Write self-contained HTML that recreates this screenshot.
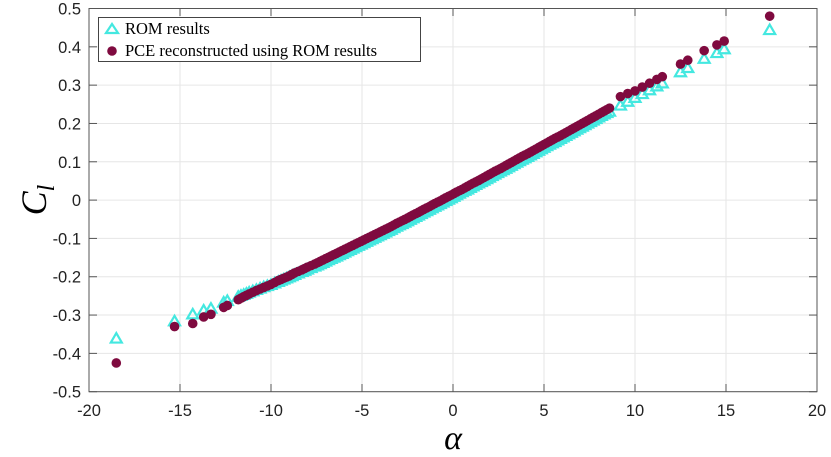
<!DOCTYPE html>
<html><head><meta charset="utf-8"><style>
html,body{margin:0;padding:0;background:#fff;}
svg{display:block;font-family:"Liberation Sans",sans-serif;}
</style></head><body>
<svg id="chart" width="831" height="457" viewBox="0 0 831 457">
<g id="grid"></g>
<g id="marks"></g>
<rect x="89" y="8.5" width="728" height="383.2" fill="none" stroke="#555" stroke-width="1"/>
<g id="ticks"></g>
<text x="453" y="449" font-family="Liberation Serif,serif" font-style="italic" font-size="34" text-anchor="middle">α</text>
<text transform="translate(46,200) rotate(-90)" font-family="Liberation Serif,serif" font-style="italic" font-size="36" text-anchor="middle">C<tspan font-size="24" dy="8">l</tspan></text>
<g>
<rect x="98.5" y="17.5" width="322" height="44" fill="#fff" stroke="#444" stroke-width="1"/>
<g>
<polygon points="106,33 112,24 118,33" fill="none" stroke="#44e8e0" stroke-width="2.2"/>
<text x="125" y="34" font-family="Liberation Serif,serif" font-size="16.5">ROM results</text>
</g>
<g>
<circle cx="112" cy="51" r="4.8" fill="#7f0a3f"/>
<text x="125" y="56" font-family="Liberation Serif,serif" font-size="16.5">PCE reconstructed using ROM results</text>
</g>
</g>
</svg>
<script>
const xTicks=[-20,-15,-10,-5,0,5,10,15,20];
const yTicks=[-0.5,-0.4,-0.3,-0.2,-0.1,0,0.1,0.2,0.3,0.4,0.5];
const yTickLabels=["-0.5","-0.4","-0.3","-0.2","-0.1","0","0.1","0.2","0.3","0.4","0.5"];
const alphaVals=[-18.5,-15.3,-14.3,-13.7,-13.3,-12.6,-12.4,-11.8,-11.5,-11.2,-10.8,-10.4,-10.0,-9.6,-9.3,-9.0,-8.7,-8.3,-8.0,-7.6,-7.3,-7.0,-6.7,-6.4,-6.1,-5.8,-5.5,-5.2,-4.9,-4.6,-4.3,-4.0,-3.7,-3.4,-3.1,-2.8,-2.5,-2.2,-1.9,-1.6,-1.3,-1.0,-0.7,-0.4,-0.1,0.2,0.5,0.8,1.1,1.4,1.7,2.0,2.3,2.6,2.9,3.2,3.5,3.8,4.1,4.4,4.7,5.0,5.3,5.6,5.9,6.2,6.5,6.8,7.1,7.4,7.7,8.0,8.3,8.6,9.2,9.6,10.0,10.4,10.8,11.2,11.5,12.5,12.9,13.8,14.5,14.9,17.4,
-11.65,-11.35,-11.0,-10.6,-10.2,-9.8,-9.45,-9.15,-8.85,-8.5,-8.15,-7.8,-7.45,-7.15,-6.85,-6.55,-6.25,-5.95,-5.65,-5.35,-5.05,-4.75,-4.45,-4.15,-3.85,-3.55,-3.25,-2.95,-2.65,-2.35,-2.05,-1.75,-1.45,-1.15,-0.85,-0.55,-0.25,0.05,0.35,0.65,0.95,1.25,1.55,1.85,2.15,2.45,2.75,3.05,3.35,3.65,3.95,4.25,4.55,4.85,5.15,5.45,5.75,6.05,6.35,6.65,6.95,7.25,7.55,7.85,8.15,8.45];
const romVals=[-0.36,-0.315,-0.297,-0.287,-0.282,-0.266,-0.262,-0.251,-0.246,-0.24,-0.233,-0.226,-0.22,-0.212,-0.206,-0.2,-0.194,-0.186,-0.18,-0.172,-0.166,-0.159,-0.152,-0.146,-0.139,-0.132,-0.125,-0.118,-0.111,-0.104,-0.097,-0.09,-0.083,-0.076,-0.068,-0.061,-0.054,-0.046,-0.039,-0.031,-0.024,-0.016,-0.009,-0.001,0.006,0.014,0.022,0.029,0.037,0.045,0.052,0.06,0.068,0.076,0.083,0.091,0.099,0.107,0.114,0.122,0.13,0.138,0.146,0.153,0.161,0.169,0.177,0.185,0.193,0.201,0.209,0.217,0.225,0.232,0.248,0.258,0.268,0.278,0.288,0.298,0.306,0.335,0.346,0.37,0.385,0.395,0.445,
-0.2485,-0.243,-0.2365,-0.2295,-0.223,-0.216,-0.209,-0.203,-0.197,-0.19,-0.183,-0.176,-0.169,-0.1625,-0.1555,-0.149,-0.1425,-0.1355,-0.1285,-0.1215,-0.1145,-0.1075,-0.1005,-0.0935,-0.0865,-0.0795,-0.072,-0.0645,-0.0575,-0.05,-0.0425,-0.035,-0.0275,-0.02,-0.0125,-0.005,0.0025,0.01,0.018,0.0255,0.033,0.041,0.0485,0.056,0.064,0.072,0.0795,0.087,0.095,0.103,0.1105,0.118,0.126,0.134,0.142,0.1495,0.157,0.165,0.173,0.181,0.189,0.197,0.205,0.213,0.221,0.2285];
const pceVals=[-0.425,-0.33,-0.322,-0.305,-0.298,-0.28,-0.275,-0.26,-0.252,-0.245,-0.236,-0.228,-0.22,-0.21,-0.204,-0.198,-0.19,-0.182,-0.175,-0.167,-0.16,-0.153,-0.146,-0.139,-0.132,-0.125,-0.118,-0.111,-0.104,-0.097,-0.09,-0.083,-0.076,-0.069,-0.061,-0.054,-0.047,-0.039,-0.032,-0.024,-0.017,-0.009,-0.002,0.006,0.013,0.021,0.028,0.036,0.044,0.051,0.059,0.067,0.075,0.082,0.09,0.098,0.106,0.114,0.121,0.129,0.137,0.145,0.153,0.161,0.168,0.176,0.184,0.192,0.2,0.208,0.216,0.224,0.232,0.24,0.27,0.278,0.285,0.295,0.305,0.315,0.322,0.355,0.365,0.39,0.405,0.415,0.48,
-0.256,-0.2485,-0.2405,-0.232,-0.224,-0.215,-0.207,-0.201,-0.194,-0.186,-0.1785,-0.171,-0.1635,-0.1565,-0.1495,-0.1425,-0.1355,-0.1285,-0.1215,-0.1145,-0.1075,-0.1005,-0.0935,-0.0865,-0.0795,-0.0725,-0.065,-0.0575,-0.0505,-0.043,-0.0355,-0.028,-0.0205,-0.013,-0.0055,0.002,0.0095,0.017,0.0245,0.032,0.04,0.0475,0.055,0.063,0.071,0.0785,0.086,0.094,0.102,0.11,0.1175,0.125,0.133,0.141,0.149,0.157,0.1645,0.172,0.18,0.188,0.196,0.204,0.212,0.22,0.228,0.236];
const NS='http://www.w3.org/2000/svg';
function xs(v){return 89+(v+20)/40*728;}
function ys(v){return 391.7-(v+0.5)*383.2;}
const grid=document.getElementById('grid'),ticks=document.getElementById('ticks'),marks=document.getElementById('marks');
function mk(tag,attrs,parent){const e=document.createElementNS(NS,tag);for(const k in attrs)e.setAttribute(k,attrs[k]);parent.appendChild(e);return e;}
xTicks.forEach(t=>{
 const x=xs(t);
 const g=mk('line',{x1:x,x2:x,y1:8.5,y2:391.7,stroke:'#e6e6e6','stroke-width':1},grid);
 
 
 mk('line',{x1:x,x2:x,y1:391.7,y2:384,stroke:'#555'},ticks);
 mk('line',{x1:x,x2:x,y1:8.5,y2:16,stroke:'#555'},ticks);
 const l=mk('text',{x:x,y:416,'font-size':16.5,'text-anchor':'middle',fill:'#222'},ticks);
 l.textContent=String(t);
 
 
});
yTicks.forEach((t,i)=>{
 const y=ys(t);
 const g=mk('line',{x1:89,x2:817,y1:y,y2:y,stroke:'#e6e6e6','stroke-width':1},grid);
 
 
 mk('line',{x1:89,x2:97,y1:y,y2:y,stroke:'#555'},ticks);
 mk('line',{x1:817,x2:809,y1:y,y2:y,stroke:'#555'},ticks);
 const l=mk('text',{x:81,y:y+6,'font-size':16.5,'text-anchor':'end',fill:'#222'},ticks);
 l.textContent=yTickLabels[i];
 
 
});
alphaVals.forEach((a,i)=>{
 const x=xs(a),y=ys(romVals[i]);
 const p=mk('polygon',{points:`${x-5.5},${y+4.5} ${x},${y-5} ${x+5.5},${y+4.5}`,fill:'none',stroke:'#44e8e0','stroke-width':2.2},marks);
 
 
});
alphaVals.forEach((a,i)=>{
 const c=mk('circle',{cx:xs(a),cy:ys(pceVals[i]),r:4.8,fill:'#7f0a3f'},marks);
 
 
});
</script>
</body></html>
